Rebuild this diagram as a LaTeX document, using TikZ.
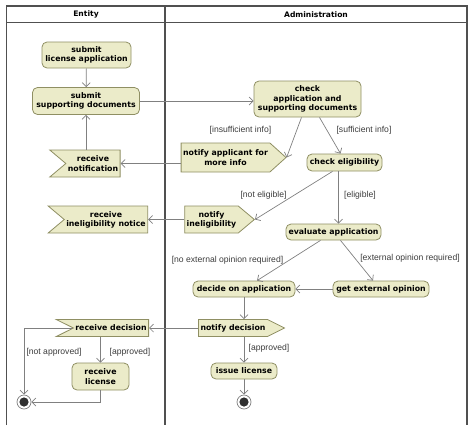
\documentclass[tikz,border=0pt]{standalone}
\usepackage{fontspec}
\setmainfont{DejaVu Sans}
\newfontfamily\guardfont{Liberation Sans}
\usetikzlibrary{arrows.meta,positioning,shapes.symbols}

\definecolor{actfill}{HTML}{EBEBC9}
\definecolor{actline}{HTML}{8F8F63}
\definecolor{flowline}{HTML}{808080}
\definecolor{guardtext}{HTML}{3C3C3C}
\definecolor{laneline}{HTML}{505050}
\definecolor{enddot}{HTML}{303030}

\tikzset{
  nodefont/.style={font=\bfseries\fontsize{7.8}{9.2}\selectfont},
  action/.style={nodefont, draw=actline, fill=actfill, line width=0.8pt,
    rounded corners=5pt, align=center, inner sep=2pt},
  sendsig/.style={nodefont, draw=actline, fill=actfill, line width=0.8pt,
    shape=signal, signal to=east, signal from=nowhere,
    signal pointer angle=#1, align=center, inner sep=2pt},
  sendsig/.default=84,
  recvsig/.style={nodefont, draw=actline, fill=actfill, line width=0.8pt,
    shape=signal, signal to=nowhere, signal from=west,
    signal pointer angle=#1, align=center, inner sep=2pt},
  recvsig/.default=84,
  flow/.style={draw=flowline, line width=0.7pt,
    -{Straight Barb[length=4pt,width=8pt]}},
  guard/.style={font=\guardfont\fontsize{8.6}{10}\selectfont,
    text=guardtext, inner sep=1pt},
  finalnode/.style={circle, draw=flowline, fill=white, line width=0.7pt,
    minimum size=14pt, inner sep=0pt,
    path picture={\fill[enddot] (path picture bounding box.center) circle (4.6pt);}},
  lane/.style={draw=laneline, line width=1.4pt},
  lanehead/.style={font=\bfseries\fontsize{7.6}{9}\selectfont}
}

\begin{document}
\begin{tikzpicture}[x=1pt, y=-1pt]
  \useasboundingbox (0,0) rectangle (474,432);

  % swimlanes
  \draw[lane] (6.5,425) -- (6.5,6) -- (467,6) -- (467,425);
  \draw[lane] (6.5,22.5) -- (467,22.5);
  \draw[lane] (165,6) -- (165,425);
  \node[lanehead] (hentity) at (86,14.5) {Entity};
  \node[lanehead] (hadmin) at (316,14.5) {Administration};

  % entity lane
  \node[action, minimum width=89pt, minimum height=26pt] (slapp) at (86.5,55)
    {submit\\license application};
  \node[action, minimum width=107pt, minimum height=27pt] (ssdoc) at (86,101)
    {submit\\supporting documents};
  \node[recvsig=80, minimum width=58pt, minimum height=27pt] (rnotif) at (93,163.5)
    {receive\\notification};
  \node[recvsig=80, minimum width=86pt, minimum height=27pt] (rinelig) at (106,219.5)
    {receive\\ineligibility notice};
  \node[recvsig=53, minimum width=82pt, minimum height=17pt] (rdecis) at (111,328)
    {receive decision};
  \node[action, minimum width=57pt, minimum height=27pt] (rlic) at (100.5,376.5)
    {receive\\license};
  \node[finalnode] (endent) at (24,402) {};

  % administration lane
  \node[action, minimum width=107pt, minimum height=36pt] (chkapp) at (307.5,99)
    {check\\application and\\supporting documents};
  \node[sendsig=84, minimum width=91pt, minimum height=29pt] (nmore) at (225.5,157.5)
    {notify applicant for\\more info};
  \node[action, minimum width=75pt, minimum height=17pt] (chkelig) at (344.5,162.5)
    {check eligibility};
  \node[sendsig=80, minimum width=59pt, minimum height=27pt] (ninelig) at (211.5,219.5)
    {notify\\ineligibility};
  \node[action, minimum width=95pt, minimum height=16pt] (evalapp) at (333.5,232)
    {evaluate application};
  \node[action, minimum width=102pt, minimum height=16pt] (decide) at (244,289)
    {decide on application};
  \node[action, minimum width=96pt, minimum height=16pt] (getext) at (381,289)
    {get external opinion};
  \node[sendsig=53, minimum width=72pt, minimum height=17pt] (ndecis) at (233,328)
    {notify decision};
  \node[action, minimum width=66pt, minimum height=16pt] (isslic) at (244,371)
    {issue license};
  \node[finalnode] (endadm) at (244,402) {};

  % flows
  \draw[flow] (slapp) -- (ssdoc);
  \draw[flow] (ssdoc.south |- rnotif.north) -- (ssdoc.south);
  \draw[flow] (ssdoc.east) -- (ssdoc.east -| chkapp.west);
  \draw[flow] ([xshift=-6pt]chkapp.south) -- (nmore.east);
  \draw[flow] ([xshift=12pt]chkapp.south) -- ([xshift=-4pt]chkelig.north);
  \draw[flow] (nmore.west |- rnotif.east) -- (rnotif.east);
  \draw[flow] ([xshift=-12pt]chkelig.south) -- (ninelig.east);
  \draw[flow] ([xshift=-6pt]chkelig.south) -- ([xshift=-6pt]chkelig.south |- evalapp.north);
  \draw[flow] (ninelig.west) -- (rinelig.east);
  \draw[flow] ([xshift=-13pt]evalapp.south) -- ([xshift=13pt]decide.north);
  \draw[flow] ([xshift=7pt]evalapp.south) -- ([xshift=-8pt]getext.north);
  \draw[flow] (getext.west) -- (decide.east);
  \draw[flow] (decide.south) -- (decide.south |- ndecis.north);
  \draw[flow] (ndecis.west) -- (rdecis.east);
  \draw[flow] (rlic.north |- rdecis.south) -- (rlic.north);
  \draw[flow] (rdecis.west) -| (endent.north);
  \draw[flow] (rlic.south) |- (endent.east);
  \draw[flow] (decide.south |- ndecis.south) -- (isslic.north);
  \draw[flow] (isslic.south) -- (endadm.north);

  % guards
  \node[guard] (ginsuf) at (240.5,130) {[insufficient info]};
  \node[guard] (gsuf) at (364,130) {[sufficient info]};
  \node[guard] (gnotel) at (263.5,195) {[not eligible]};
  \node[guard] (gelig) at (360,195) {[eligible]};
  \node[guard] (gnoext) at (227.5,260.5) {[no external opinion required]};
  \node[guard] (gext) at (410,258) {[external opinion required]};
  \node[guard] (gnotapp) at (54,352) {[not approved]};
  \node[guard] (gappent) at (130,352) {[approved]};
  \node[guard] (gappadm) at (269,348) {[approved]};
\end{tikzpicture}
\end{document}
